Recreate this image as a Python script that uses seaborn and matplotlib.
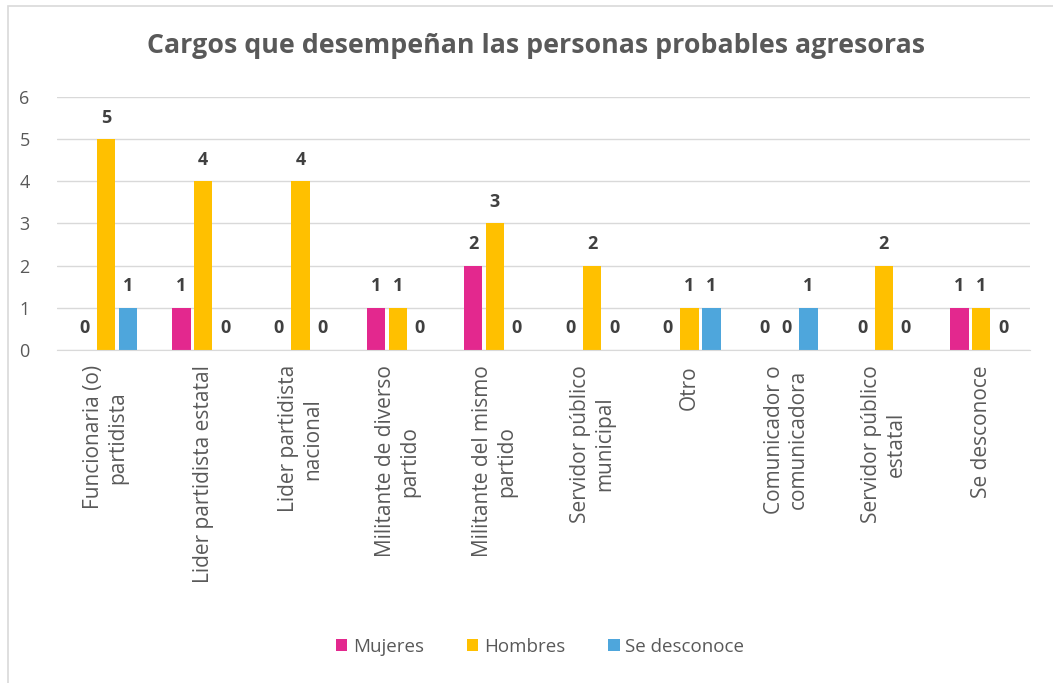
import pandas as pd
import matplotlib.pyplot as plt
import matplotlib.patches as mpatches
import seaborn as sns

# Datos
cargos = [
    "Funcionaria (o)\npartidista",
    "Lider partidista estatal",
    "Lider partidista\nnacional",
    "Militante de diverso\npartido",
    "Militante del mismo\npartido",
    "Servidor público\nmunicipal",
    "Otro",
    "Comunicador o\ncomunicadora",
    "Servidor público\nestatal",
    "Se desconoce",
]
mujeres = [0, 1, 0, 1, 2, 0, 0, 0, 0, 1]
hombres = [5, 4, 4, 1, 3, 2, 1, 0, 2, 1]
se_desconoce = [1, 0, 0, 0, 0, 0, 1, 1, 0, 0]
series = ["Mujeres", "Hombres", "Se desconoce"]
colores = ["#E3288E", "#FFC000", "#4EA6DC"]

df = pd.DataFrame({"cargo": cargos, "Mujeres": mujeres,
                   "Hombres": hombres, "Se desconoce": se_desconoce})
largo = df.melt(id_vars="cargo", var_name="sexo", value_name="n")

sns.set_style("white")
plt.rcParams['font.family'] = ['Open Sans', 'DejaVu Sans']

fig = plt.figure(figsize=(10.53, 6.83), dpi=100)
ax = fig.add_axes([0.0545, 0.4876, 0.9235, 0.3704])

sns.barplot(data=largo, x="cargo", y="n", hue="sexo", hue_order=series,
            palette=colores, saturation=1, width=0.675, gap=0.16,
            linewidth=0, ax=ax)

# etiquetas de valor (incluye ceros)
for cont in ax.containers:
    ax.bar_label(cont, fmt="%d", padding=9, fontsize=13,
                 fontweight='bold', color='#404040')

ax.set_ylim(0, 6)
ax.set_yticks(range(0, 7))
ax.set_xlim(-0.5, len(cargos) - 0.5)
ax.grid(axis='y', color='#D9D9D9', linewidth=1)
ax.set_axisbelow(True)
for s in ['top', 'right', 'left']:
    ax.spines[s].set_visible(False)
ax.spines['bottom'].set_color('#D9D9D9')
ax.tick_params(axis='both', length=0, labelsize=13, labelcolor='#595959')
ax.tick_params(axis='y', pad=20)
ax.tick_params(axis='x', pad=11)
ax.set_xlabel("")
ax.set_ylabel("")
ax.set_xticks(range(len(cargos)))
ax.set_xticklabels(cargos, rotation=90, ha='center', va='top',
                   multialignment='center', fontsize=15)

sns.move_legend(ax, "center", bbox_to_anchor=(0.513, 0.053),
                bbox_transform=fig.transFigure, ncol=3, frameon=False,
                title=None, fontsize=13.5, handlelength=0.6, handleheight=0.6,
                handletextpad=0.3, columnspacing=2.3)
for t in ax.get_legend().get_texts():
    t.set_color('#595959')

fig.suptitle("Cargos que desempeñan las personas probables agresoras",
             x=0.509, y=0.952, fontsize=19.3, fontweight='bold', color='#595959')

# marco del area del grafico (solo se ven los bordes superior e izquierdo)
fig.patches.append(mpatches.Rectangle((0.0076, -0.1), 1.2, 1.091,
                                      transform=fig.transFigure, fill=False,
                                      edgecolor='#D9D9D9', linewidth=1.2))

fig.savefig("out.png", dpi=100)
